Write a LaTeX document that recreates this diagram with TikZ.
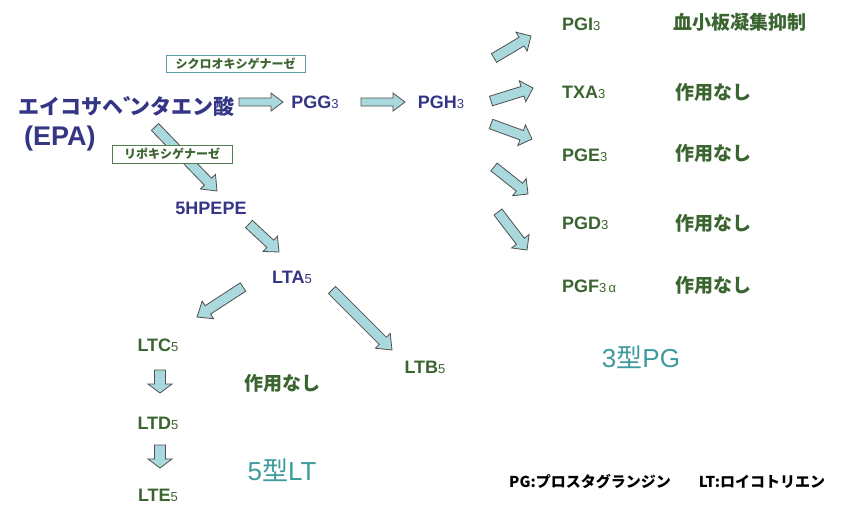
\documentclass[tikz,border=0pt]{standalone}
\usepackage{fontspec}
\setmainfont{Liberation Sans}
\newfontfamily\jp{Noto Sans CJK JP}
\usetikzlibrary{calc}
\definecolor{navy}{HTML}{353586}
\definecolor{dgreen}{HTML}{3B6530}
\definecolor{tealtxt}{HTML}{3E9A9C}
\definecolor{arrfill}{HTML}{A9D8DD}
\definecolor{arrline}{HTML}{505050}
\definecolor{boxteal}{HTML}{5AA0A8}
\definecolor{boxgreen}{HTML}{4F7F4F}
\newcommand\sbn[1]{{\fontsize{13}{13}\selectfont\mdseries #1}}
\newcommand\barr[5]{%
  \coordinate (bah) at ($(#2)!#5!(#1)$);
  \filldraw[blockarr] ($(#1)!#3!90:(#2)$) -- ($(bah)!#3!90:(#2)$) -- ($(bah)!#4!90:(#2)$) -- (#2)
    -- ($(bah)!#4!-90:(#2)$) -- ($(bah)!#3!-90:(#2)$) -- ($(#1)!#3!-90:(#2)$) -- cycle;}
\begin{document}
\begin{tikzpicture}[x=1pt,y=-1pt,
  blockarr/.style={fill=arrfill, draw=arrline, line width=0.8pt, line join=miter},
  bl/.style={inner sep=0, text=navy, font=\fontsize{18}{18}\selectfont\bfseries},
  gr/.style={inner sep=0, text=dgreen, font=\fontsize{18}{18}\selectfont\bfseries},
  jgr/.style={inner sep=0, text=dgreen, font=\jp\fontsize{19}{19}\selectfont\bfseries, anchor=west},
  tl/.style={inner sep=0, text=tealtxt, font=\fontsize{26}{26}\selectfont},
  enzyme/.style={draw, fill=white, line width=1pt, inner sep=0, minimum height=17pt,
     text=dgreen, font=\jp\fontsize{12}{12}\selectfont\bfseries},
  legend/.style={inner sep=0, text=black, font=\jp\fontsize{15}{15}\selectfont\bfseries}]
\fill[white] (0,0) rectangle (850,515);
\useasboundingbox (0,0) rectangle (850,515);

% left / EPA
\node[inner sep=0, anchor=west, text=navy, font=\jp\fontsize{21}{21}\selectfont\bfseries] (epa) at (18,106)
  {エイコサヘ\makebox[0.3em][l]{゛}ンタエン酸};
\node[inner sep=0, anchor=west, text=navy, font=\fontsize{27}{27}\selectfont\bfseries] (epa2) at (24,139) {(EPA)};

\node[bl] (pgg) at (315,102) {PGG\sbn{3}};
\node[bl] (pgh) at (441,102) {PGH\sbn{3}};
\node[bl] (hpepe) at (211,208) {5HPEPE};
\node[bl] (lta) at (292,277) {LTA\sbn{5}};
\node[gr] (ltb) at (425,367) {LTB\sbn{5}};
\node[gr] (ltc) at (158,345) {LTC\sbn{5}};
\node[gr] (ltd) at (158,423) {LTD\sbn{5}};
\node[gr] (lte) at (158,495) {LTE\sbn{5}};
\node[jgr, anchor=center] (ltnone) at (282,383) {作用なし};
\node[tl] (lt5) at (282,470) {5{\jp 型}LT};

% right column
\node[gr, anchor=west] (pgi) at (562,24) {PGI\sbn{3}};
\node[gr, anchor=west] (txa) at (562,92) {TXA\sbn{3}};
\node[gr, anchor=west] (pge) at (562,155) {PGE\sbn{3}};
\node[gr, anchor=west] (pgd) at (562,223) {PGD\sbn{3}};
\node[gr, anchor=west] (pgf) at (562,286) {PGF\sbn{3\,α}};
\node[jgr] (e1) at (673,22) {血小板凝集抑制};
\node[jgr] (e2) at (675,92) {作用なし};
\node[jgr] (e3) at (675,153) {作用なし};
\node[jgr] (e4) at (675,223) {作用なし};
\node[jgr] (e5) at (675,285) {作用なし};
\node[tl] (pg3) at (641,357) {3{\jp 型}PG};

\node[legend] (lg1) at (590,482) {PG:プロスタグランジン};
\node[legend] (lg2) at (762,482) {LT:ロイコトリエン};

% arrow end points
\coordinate (a1s) at (239,102); \coordinate (a1e) at (283,102);
\coordinate (a2s) at (361,102); \coordinate (a2e) at (405,102);
\coordinate (a3s) at (155,127); \coordinate (a3e) at (217,191);
\coordinate (a4s) at (249,224); \coordinate (a4e) at (279,252);
\coordinate (a5s) at (243,287); \coordinate (a5e) at (197,317);
\coordinate (a6s) at (332,290); \coordinate (a6e) at (392,350);
\coordinate (a7s) at (160,370); \coordinate (a7e) at (160,393);
\coordinate (a8s) at (160,445); \coordinate (a8e) at (160,468);
\coordinate (b1s) at (494,58); \coordinate (b1e) at (531,36);
\coordinate (b2s) at (491,101); \coordinate (b2e) at (533,88);
\coordinate (b3s) at (491,124); \coordinate (b3e) at (532,139);
\coordinate (b4s) at (494,167); \coordinate (b4e) at (528,194);
\coordinate (b5s) at (498,212); \coordinate (b5e) at (527,250);

\barr{a1s}{a1e}{4pt}{9pt}{12pt}
\barr{a2s}{a2e}{4pt}{9pt}{12pt}
\barr{a3s}{a3e}{5pt}{10.5pt}{13pt}
\barr{a4s}{a4e}{5pt}{10.5pt}{12pt}
\barr{a5s}{a5e}{5pt}{10.5pt}{13pt}
\barr{a6s}{a6e}{5pt}{10.5pt}{13pt}
\barr{a7s}{a7e}{5.5pt}{12pt}{9pt}
\barr{a8s}{a8e}{5.5pt}{12pt}{9pt}
\barr{b1s}{b1e}{5pt}{11pt}{11pt}
\barr{b2s}{b2e}{5pt}{11pt}{11pt}
\barr{b3s}{b3e}{5pt}{11pt}{11pt}
\barr{b4s}{b4e}{5pt}{11pt}{11pt}
\barr{b5s}{b5e}{5pt}{11pt}{11pt}

% enzyme boxes
\node[enzyme, draw=boxteal, minimum width=139pt] (cox) at (235.5,63.5) {シクロオキシゲナーゼ};
\node[enzyme, draw=boxgreen, minimum width=120pt, minimum height=18pt] (lox) at (172,154) {リポキシゲナーゼ};
\end{tikzpicture}
\end{document}
